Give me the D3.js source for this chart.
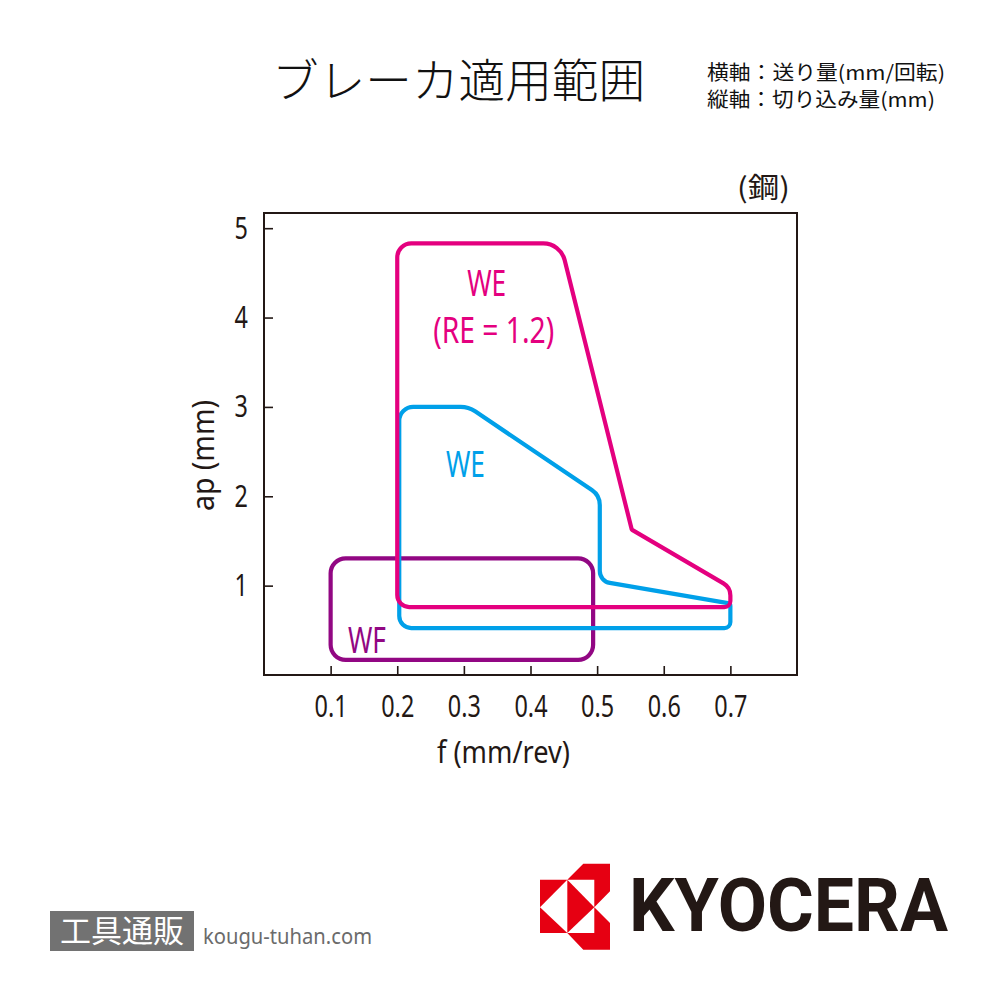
<!DOCTYPE html>
<html>
<head>
<meta charset="utf-8">
<script src="https://cdn.jsdelivr.net/npm/d3@7"></script>
<style>
  html, body { margin: 0; padding: 0; background: #fff; }
  svg { display: block; }
</style>
</head>
<body>
<svg id="chart" width="1000" height="1000"></svg>
<script>
// ---------------- DATA ----------------
const xTicks = [0.1, 0.2, 0.3, 0.4, 0.5, 0.6, 0.7];
const yTicks = [1, 2, 3, 4, 5];
const xTickLabels = ["0.1", "0.2", "0.3", "0.4", "0.5", "0.6", "0.7"];
const yTickLabels = ["1", "2", "3", "4", "5"];

// Region outlines (f, ap) — polygon vertices
const regionNames = ["WE (RE=1.2)", "WE", "WF"];
const weRE12 = [[0.2, 0.76], [0.2, 4.83], [0.445, 4.83], [0.552, 1.626], [0.7, 0.98], [0.7, 0.76]];
const we     = [[0.203, 0.525], [0.203, 3.0], [0.307, 3.0], [0.504, 2.01], [0.504, 1.05], [0.7, 0.80], [0.7, 0.525]];
const wf     = [[0.1, 0.17], [0.1, 1.306], [0.494, 1.306], [0.494, 0.17]];

// Labels (text, f at left edge, ap at baseline)
const labelTexts = ["WE", "(RE = 1.2)", "WE", "WF"];
const labelF  = [0.305, 0.254, 0.273, 0.126];
const labelAp = [4.24, 3.715, 2.216, 0.246];

const titleText = "ブレーカ適用範囲";
const axisNote1 = "横軸：送り量(mm/回転)";
const axisNote2 = "縦軸：切り込み量(mm)";
const materialText = "(鋼)";
const xTitle = "f (mm/rev)";
const yTitle = "ap (mm)";

// ---------------- STYLE ----------------
const C_MAG = "#E4007F", C_CYAN = "#00A0E9", C_PUR = "#920783", C_INK = "#231815";
const LATIN = "'Noto Sans', 'Open Sans', sans-serif";
const CJK = "'Noto Sans CJK JP', 'Noto Sans', sans-serif";

const svg = d3.select("#chart");
const frame = { left: 264, right: 797, top: 213, bottom: 675 };

const x = d3.scaleLinear().domain([0, 0.8]).range([frame.left, frame.right]);
const y = d3.scaleLinear().domain([0, 5.17]).range([frame.bottom, frame.top]);

// Frame
svg.append("rect")
  .attr("x", frame.left).attr("y", frame.top)
  .attr("width", frame.right - frame.left).attr("height", frame.bottom - frame.top)
  .attr("fill", "none").attr("stroke", C_INK).attr("stroke-width", 2);

// Axes (ticks inside the frame)
const xAxis = d3.axisBottom(x).tickValues(xTicks).tickSize(0).tickFormat("");
const gx = svg.append("g").attr("transform", `translate(0,${frame.bottom})`).call(xAxis);
gx.select(".domain").remove();
gx.selectAll(".tick").append("line").attr("y1", 0).attr("y2", -9).attr("stroke", C_INK).attr("stroke-width", 1.6);
gx.selectAll(".tick").append("text")
  .attr("transform", `translate(0,42) scale(0.78,1)`)
  .attr("text-anchor", "middle").attr("fill", C_INK)
  .style("font-family", LATIN).style("font-size", "30px")
  .text((d, i) => xTickLabels[i]);

const yAxis = d3.axisLeft(y).tickValues(yTicks).tickSize(0).tickFormat("");
const gy = svg.append("g").attr("transform", `translate(${frame.left},0)`).call(yAxis);
gy.select(".domain").remove();
gy.selectAll(".tick").append("line").attr("x1", 0).attr("x2", 9).attr("stroke", C_INK).attr("stroke-width", 1.6);
gy.selectAll(".tick").append("text")
  .attr("transform", `translate(-16,10) scale(0.78,1)`)
  .attr("text-anchor", "end").attr("fill", C_INK)
  .style("font-family", LATIN).style("font-size", "30px")
  .text((d, i) => yTickLabels[i]);

// Axis titles
svg.append("text").attr("x", 437).attr("y", 763)
  .attr("textLength", 133).attr("lengthAdjust", "spacingAndGlyphs")
  .attr("fill", C_INK).style("font-family", LATIN).style("font-size", "31px")
  .text(xTitle);
svg.append("text").attr("transform", "translate(214,511) rotate(-90)")
  .attr("textLength", 111).attr("lengthAdjust", "spacingAndGlyphs")
  .attr("fill", C_INK).style("font-family", LATIN).style("font-size", "31px")
  .text(yTitle);

// Rounded polygon outline
const radii = [
  [12, 14, 22, 1, 14, 6],
  [12, 14, 26, 18, 12, 3, 6],
  [15, 15, 15, 15]
];
function roundedPath(pts, rs) {
  const p = d3.path();
  const n = pts.length;
  const P = pts.map(d => [x(d[0]), y(d[1])]);
  const last = P[n - 1], first = P[0];
  p.moveTo((last[0] + first[0]) / 2, (last[1] + first[1]) / 2);
  for (let i = 0; i < n; i++) {
    const c = P[i], nx = P[(i + 1) % n];
    p.arcTo(c[0], c[1], nx[0], nx[1], rs[i]);
  }
  p.closePath();
  return p.toString();
}
const regions = [weRE12, we, wf];
const colors = [C_MAG, C_CYAN, C_PUR];
const order = [2, 1, 0];
svg.append("g").selectAll("path")
  .data(order)
  .join("path")
  .attr("d", i => roundedPath(regions[i], radii[i]))
  .attr("fill", "none")
  .attr("stroke", i => colors[i])
  .attr("stroke-width", 4.2)
  .attr("stroke-linejoin", "round");

// Region labels
const labelColors = [C_MAG, C_MAG, C_CYAN, C_PUR];
const labelWidths = [39, 121, 39, 38];
svg.append("g").selectAll("text")
  .data(labelTexts)
  .join("text")
  .attr("x", (d, i) => x(labelF[i]))
  .attr("y", (d, i) => y(labelAp[i]))
  .attr("textLength", (d, i) => labelWidths[i])
  .attr("lengthAdjust", "spacingAndGlyphs")
  .attr("fill", (d, i) => labelColors[i])
  .style("font-family", LATIN).style("font-size", "36px")
  .text(d => d);

// Title & notes
svg.append("text").attr("x", 272).attr("y", 97)
  .attr("textLength", 373).attr("lengthAdjust", "spacingAndGlyphs")
  .attr("fill", "#111").style("font-family", CJK).style("font-size", "46px").style("font-weight", 300)
  .text(titleText);
svg.append("text").attr("x", 707).attr("y", 80)
  .attr("textLength", 238).attr("lengthAdjust", "spacingAndGlyphs")
  .attr("fill", "#111").style("font-family", CJK).style("font-size", "20px")
  .text(axisNote1);
svg.append("text").attr("x", 707).attr("y", 107)
  .attr("textLength", 228).attr("lengthAdjust", "spacingAndGlyphs")
  .attr("fill", "#111").style("font-family", CJK).style("font-size", "20px")
  .text(axisNote2);
svg.append("text").attr("x", 737).attr("y", 198)
  .attr("textLength", 53).attr("lengthAdjust", "spacingAndGlyphs")
  .attr("fill", C_INK).style("font-family", CJK).style("font-size", "28px")
  .text(materialText);

// KYOCERA mark
const red = "#E60012";
const L = 540, M = 567.3, Q = 583.3, R = 594.3, E = 610;
const T0 = 863.7, T1 = 879.7, T2 = 891.3, MID = 907.3, B2 = 923, B1 = 933, B0 = 949.7;
const markPolys = [
  [[L, T1], [M, T1], [L, MID]],
  [[L, MID], [L, B1], [M, B1]],
  [[M, T1], [R, MID], [M, B1]],
  [[M, T1], [Q, T0], [E, T0], [E, T2], [R, MID], [R, T1]],
  [[M, B1], [Q, B0], [E, B0], [E, B2], [R, MID], [R, B1]]
];
svg.append("g").selectAll("polygon").data(markPolys).join("polygon")
  .attr("points", d => d.map(p => p.join(",")).join(" "))
  .attr("fill", red);
svg.append("text").attr("x", 629).attr("y", 931)
  .attr("textLength", 319).attr("lengthAdjust", "spacingAndGlyphs")
  .attr("fill", C_INK).style("font-family", "Roboto, sans-serif")
  .style("font-size", "74px").style("font-weight", 700)
  .text("KYOCERA");

// Bottom-left badge
svg.append("rect").attr("x", 50).attr("y", 911).attr("width", 144).attr("height", 40).attr("fill", "#727272");
svg.append("text").attr("x", 60).attr("y", 942)
  .attr("textLength", 124).attr("lengthAdjust", "spacingAndGlyphs")
  .attr("fill", "#fff").style("font-family", CJK).style("font-size", "31px")
  .text("工具通販");
svg.append("text").attr("x", 203).attr("y", 944)
  .attr("textLength", 169).attr("lengthAdjust", "spacingAndGlyphs")
  .attr("fill", "#6b6b6b").style("font-family", LATIN).style("font-size", "22px")
  .text("kougu-tuhan.com");
</script>
</body>
</html>
